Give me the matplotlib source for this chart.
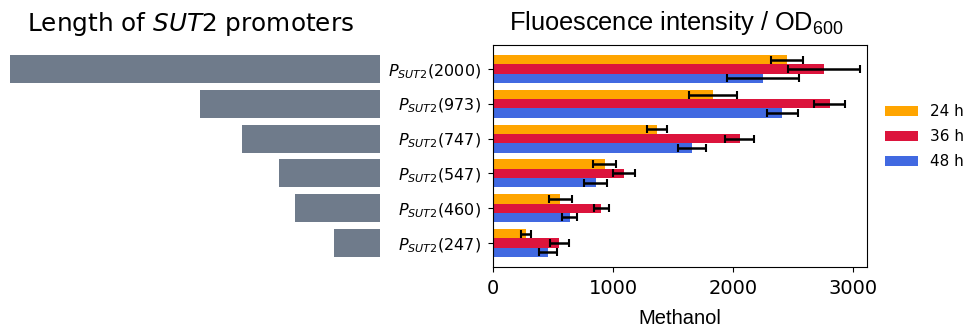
import numpy as np
import matplotlib
matplotlib.use("Agg")
import matplotlib.pyplot as plt

# promoter lengths (bp) and fluorescence / OD600 on methanol
lengths = [2000, 973, 747, 547, 460, 247]
labels = [r"$P_{SUT2}$(%d)" % n for n in lengths]
times = ["24 h", "36 h", "48 h"]
colors = ["orange", "crimson", "royalblue"]

mean_24 = [2450, 1830, 1365, 930, 560, 275]
err_24 = [135, 200, 85, 93, 95, 45]
mean_36 = [2755, 2805, 2055, 1092, 903, 553]
err_36 = [300, 130, 120, 95, 63, 78]
mean_48 = [2250, 2410, 1658, 856, 640, 458]
err_48 = [300, 130, 115, 95, 62, 78]

means = [mean_24, mean_36, mean_48]
errs = [err_24, err_36, err_48]

fig = plt.figure(figsize=(9.7, 3.29), dpi=100)
ax_l = fig.add_axes([0.0103, 0.1884, 0.3815, 0.6748])
ax_r = fig.add_axes([0.5082, 0.1884, 0.3856, 0.6748])

y = np.arange(len(lengths))

# left panel: promoter lengths
ax_l.barh(y, lengths, height=0.8, color="#6f7b8b")
ax_l.set_xlim(2000, 0)
ax_l.set_ylim(len(lengths) - 0.31, -0.69)
ax_l.axis("off")
fig.text(0.196, 0.928, r"Length of $\it{SUT}$2 promoters", fontsize=17.8,
         ha="center", va="center")

# right panel: fluorescence
h = 0.8 / 3
for k in range(3):
    ax_r.barh(y + (k - 1) * h, means[k], height=h, color=colors[k],
              xerr=errs[k], capsize=3,
              error_kw=dict(ecolor="black", elinewidth=1.8, capthick=1.5),
              label=times[k])
ax_r.set_ylim(len(lengths) - 0.31, -0.69)
ax_r.set_xlim(0, 3117)
ax_r.set_xticks([0, 1000, 2000, 3000])
ax_r.tick_params(axis="x", labelsize=14, pad=5)
ax_r.set_yticks(y)
ax_r.set_yticklabels(labels, fontsize=11.5)
ax_r.tick_params(axis="y", pad=5)
ax_r.set_xlabel("Methanol", fontsize=14.5, family="Liberation Sans", labelpad=8)
fig.text(0.697, 0.93, r"Fluoescence intensity / OD$_{\mathregular{600}}$",
         fontsize=18.3, family="Liberation Sans", ha="center", va="center")

fig.legend(loc="center left", bbox_to_anchor=(0.912, 0.584), frameon=False,
           fontsize=11, handlelength=2.2, handleheight=0.7, handletextpad=0.8,
           borderpad=0, borderaxespad=0, labelspacing=0.65)

plt.savefig("out.png", dpi=100)
